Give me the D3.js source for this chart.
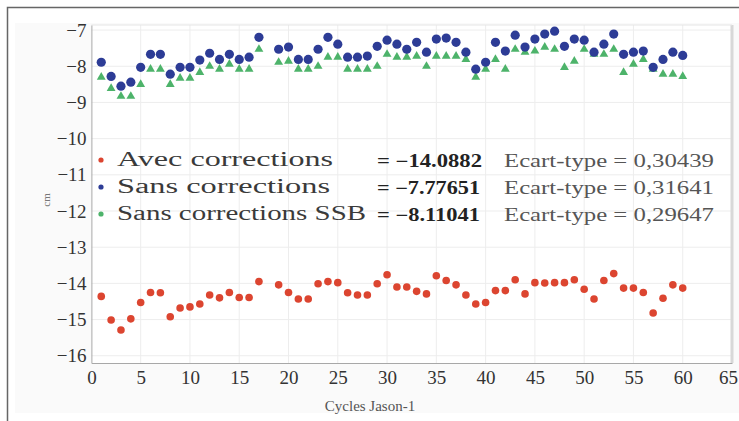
<!DOCTYPE html>
<html>
<head>
<meta charset="utf-8">
<script src="https://cdn.jsdelivr.net/npm/d3@7"></script>
<style>
  body { margin: 0; background: #fff; }
  svg text { font-family: 'Liberation Serif', 'DejaVu Serif', 'Times New Roman', serif; }
</style>
</head>
<body>
<svg width="739" height="421"></svg>
<script>
// cycles (no cycle 18 in the data)
const cycles = [1, 2, 3, 4, 5, 6, 7, 8, 9, 10, 11, 12, 13, 14, 15, 16, 17,
  19, 20, 21, 22, 23, 24, 25, 26, 27, 28, 29, 30, 31, 32, 33, 34, 35, 36, 37, 38, 39, 40,
  41, 42, 43, 44, 45, 46, 47, 48, 49, 50, 51, 52, 53, 54, 55, 56, 57, 58, 59, 60]

const avecCorrections = [-14.36, -15.01, -15.29, -14.98, -14.53, -14.25, -14.26, -14.92, -14.68, -14.65,
  -14.57, -14.32, -14.40, -14.25, -14.39, -14.39, -13.95,
  -14.04, -14.25, -14.43, -14.43, -14.01, -13.95, -13.98, -14.26, -14.32, -14.32, -14.01, -13.76,
  -14.10, -14.10, -14.22, -14.29, -13.79, -13.92, -14.04, -14.32, -14.57, -14.53,
  -14.20, -14.20, -13.90, -14.29, -13.98, -13.99, -13.98, -13.98, -13.90, -14.16,
  -14.43, -13.92, -13.73, -14.13, -14.13, -14.25, -14.82, -14.41, -14.04, -14.13]

const sansCorrections = [-7.89, -8.28, -8.55, -8.44, -8.03, -7.67, -7.67, -8.22, -8.03, -8.03,
  -7.83, -7.64, -7.81, -7.67, -7.81, -7.75, -7.20,
  -7.53, -7.47, -7.81, -7.81, -7.53, -7.20, -7.39, -7.75, -7.75, -7.72, -7.45, -7.28,
  -7.39, -7.53, -7.34, -7.61, -7.25, -7.22, -7.34, -7.61, -8.08, -7.89,
  -7.34, -7.58, -7.14, -7.47, -7.25, -7.11, -7.03, -7.45, -7.25, -7.28,
  -7.61, -7.39, -7.11, -7.67, -7.61, -7.58, -8.03, -7.81, -7.61, -7.70]

const sansCorrectionsSSB = [-8.30, -8.61, -8.83, -8.83, -8.50, -8.08, -8.08, -8.50, -8.33, -8.33,
  -8.17, -8.00, -8.08, -7.94, -8.08, -8.08, -7.53,
  -7.89, -7.86, -8.08, -8.08, -8.00, -7.75, -7.75, -8.08, -8.08, -8.08, -8.00, -7.67,
  -7.75, -7.75, -7.72, -8.00, -7.72, -7.72, -7.72, -7.81, -8.30, -8.08,
  -7.81, -8.08, -7.53, -7.61, -7.58, -7.47, -7.53, -8.03, -7.86, -7.53,
  -7.67, -7.67, -7.53, -8.17, -7.94, -7.81, -8.08, -8.22, -8.22, -8.28]

const xTicks = [0, 5, 10, 15, 20, 25, 30, 35, 40, 45, 50, 55, 60, 65]
const yTicks = [-7, -8, -9, -10, -11, -12, -13, -14, -15, -16]

const legendNames = ['Avec corrections', 'Sans corrections', 'Sans corrections SSB']
const legendMeans = ['= \u221214.0882', '= \u22127.77651', '= \u22128.11041']
const legendStd = ['Ecart-type = 0,30439', 'Ecart-type = 0,31641', 'Ecart-type = 0,29647']

const colors = ['#dc4530', '#2d3c96', '#4db36a']
const serif = "'Liberation Serif', 'DejaVu Serif', 'Times New Roman', serif"

const svg = d3.select('svg')
const margin = { top: 25, right: 7, bottom: 58, left: 91.4 }
const width = +svg.attr('width') - margin.left - margin.right
const height = +svg.attr('height') - margin.top - margin.bottom

const x = d3.scaleLinear().domain([0, 65]).range([margin.left, margin.left + width])
const y = d3.scaleLinear().domain([-16.2, -6.86]).range([margin.top + height, margin.top])

// outer frame of the figure
svg.append('rect').attr('x', 15).attr('y', 23).attr('width', 724).attr('height', 390)
  .attr('fill', '#fafafa')
svg.append('path').attr('d', 'M7.5,421 V7.5 H739')
  .attr('fill', 'none').attr('stroke', '#666').attr('stroke-width', 1.5)

// plot background
svg.append('rect')
  .attr('x', x(0)).attr('y', margin.top)
  .attr('width', x(65) - x(0)).attr('height', height)
  .attr('fill', '#fff')

// grid
svg.append('g').selectAll('line').data(xTicks.slice(1, -1)).enter().append('line')
  .attr('x1', d => x(d)).attr('x2', d => x(d))
  .attr('y1', margin.top).attr('y2', margin.top + height)
  .attr('stroke', '#ededed')
svg.append('g').selectAll('line').data(yTicks).enter().append('line')
  .attr('x1', x(0)).attr('x2', x(65))
  .attr('y1', d => y(d)).attr('y2', d => y(d))
  .attr('stroke', '#ededed')

// frame
svg.append('line').attr('x1', x(65)).attr('x2', x(65))
  .attr('y1', margin.top).attr('y2', margin.top + height)
  .attr('stroke', '#d8d8d8').attr('stroke-width', 3)
svg.append('line').attr('x1', x(0)).attr('x2', x(65))
  .attr('y1', margin.top).attr('y2', margin.top)
  .attr('stroke', '#e6e6e6')

// axes
const xAxis = svg.append('g')
  .attr('transform', `translate(0,${margin.top + height})`)
  .call(d3.axisBottom(x).tickValues(xTicks).tickSize(0).tickPadding(8))
const yAxis = svg.append('g')
  .attr('transform', `translate(${margin.left},0)`)
  .call(d3.axisLeft(y).tickValues(yTicks).tickSize(0).tickPadding(5))

xAxis.select('.domain').attr('stroke', '#a8a8a8')
yAxis.select('.domain').attr('stroke', '#a8a8a8')
xAxis.selectAll('text').style('font-family', serif).attr('font-size', '19px').attr('fill', '#333')
  .attr('dx', d => d === 65 ? -4 : 0)
yAxis.selectAll('text').style('font-family', serif).attr('font-size', '19px').attr('fill', '#333')

svg.append('text')
  .attr('x', 370).attr('y', 411)
  .attr('text-anchor', 'middle')
  .attr('font-size', '15px').attr('fill', '#555')
  .text('Cycles Jason-1')

svg.append('text')
  .attr('transform', 'translate(50,200) rotate(-90)')
  .attr('text-anchor', 'middle')
  .attr('font-size', '11px').attr('fill', '#777')
  .text('cm')

// series
const tri = d3.symbol().type(d3.symbolTriangle).size(34)

svg.append('g').selectAll('path').data(cycles).enter().append('path')
  .attr('d', tri)
  .attr('transform', (d, i) => `translate(${x(d)},${y(sansCorrectionsSSB[i])})`)
  .attr('fill', colors[2])

svg.append('g').selectAll('circle').data(cycles).enter().append('circle')
  .attr('cx', d => x(d))
  .attr('cy', (d, i) => y(sansCorrections[i]))
  .attr('r', 4.6)
  .attr('fill', colors[1])

svg.append('g').selectAll('circle').data(cycles).enter().append('circle')
  .attr('cx', d => x(d))
  .attr('cy', (d, i) => y(avecCorrections[i]))
  .attr('r', 3.8)
  .attr('fill', colors[0])

// legend
const legend = svg.append('g')
const rowY = [166, 193, 220]
const nameLen = [216, 213, 249]

legend.selectAll('circle').data(legendNames).enter().append('circle')
  .attr('cx', 101)
  .attr('cy', (d, i) => rowY[i] - 6)
  .attr('r', 2.6)
  .attr('fill', (d, i) => colors[i])

legend.selectAll('text.name').data(legendNames).enter().append('text')
  .attr('class', 'name')
  .attr('x', 117).attr('y', (d, i) => rowY[i])
  .attr('font-size', '20px').attr('fill', '#3a3a3a')
  .attr('textLength', (d, i) => nameLen[i]).attr('lengthAdjust', 'spacingAndGlyphs')
  .text(d => d)

legend.selectAll('text.mean').data(legendMeans).enter().append('text')
  .attr('class', 'mean')
  .attr('x', 377).attr('y', (d, i) => rowY[i] + 1)
  .attr('font-size', '18px').attr('font-weight', 'bold').attr('fill', '#222')
  .attr('textLength', (d, i) => i === 0 ? 105 : 103).attr('lengthAdjust', 'spacingAndGlyphs')
  .text(d => d)

legend.selectAll('text.std').data(legendStd).enter().append('text')
  .attr('class', 'std')
  .attr('x', 504).attr('y', (d, i) => rowY[i] + 1)
  .attr('font-size', '18px').attr('fill', '#555')
  .attr('textLength', 210).attr('lengthAdjust', 'spacingAndGlyphs')
  .text(d => d)
</script>
</body>
</html>
